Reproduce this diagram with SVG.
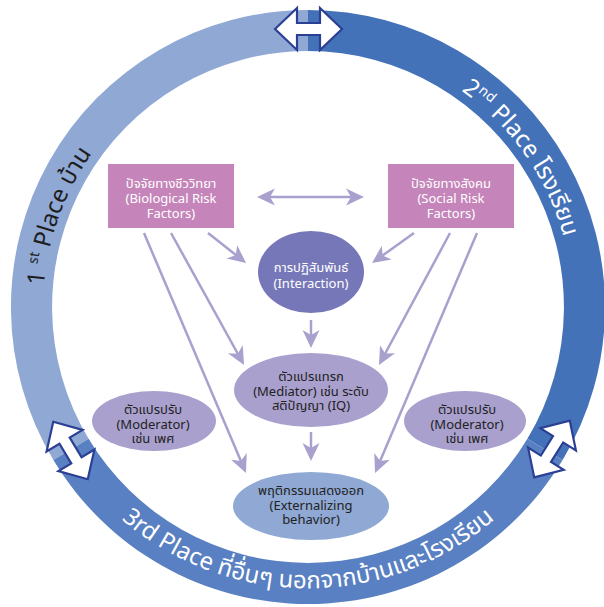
<svg xmlns="http://www.w3.org/2000/svg" width="604" height="607" viewBox="0 0 604 607">
<defs>
<style>
.lbl{font-family:"Noto Sans","Noto Sans Thai",Tahoma,"DejaVu Sans",sans-serif;font-size:13px;text-anchor:middle}
.w{fill:#ffffff}
.d{fill:#222222}
.ring{font-family:"Noto Sans","Noto Sans Thai",Tahoma,"DejaVu Sans",sans-serif;font-size:24px}
.con{stroke:#A9A0CE;stroke-width:2.5;fill:none;marker-end:url(#ah)}
.rar{fill:#ffffff;stroke:#2B3F94;stroke-width:2.2;stroke-linejoin:miter}
</style>
<marker id="ah" viewBox="-16 -10 22 20" markerWidth="22" markerHeight="20" refX="0" refY="0" orient="auto-start-reverse" markerUnits="userSpaceOnUse">
<path d="M4,0 L-14,-8.5 L-9,0 L-14,8.5 Z" fill="#A9A0CE"/>
</marker>
<polygon id="dbl" points="-33.5,0 -11.5,-21 -11.5,-6 11.5,-6 11.5,-21 33.5,0 11.5,21 11.5,6 -11.5,6 -11.5,21"/>
<path id="pLeft" d="M78.5,439.5 A265,265 0 0 1 217.4,58.0"/>
<path id="pRight" d="M331.1,43.0 A265,265 0 0 1 564.0,375.6"/>
<path id="pBottom" d="M40.2,404.5 A287,287 0 0 0 575.8,404.5"/>
</defs>

<g id="ring">
<path d="M53.4,460 A297,297 0 0 1 308,10 L308,51 A256,256 0 0 0 88.6,438.8 Z" fill="#8FA8D4"/>
<path d="M308,10 A297,297 0 0 1 562.6,460 L527.4,438.8 A256,256 0 0 0 308,51 Z" fill="#4472B9"/>
<path d="M562.6,460 A297,297 0 0 1 53.4,460 L88.6,438.8 A256,256 0 0 0 527.4,438.8 Z" fill="#5980C2"/>
<text class="ring" fill="#1E1E1E"><textPath href="#pLeft" startOffset="50%" text-anchor="middle">1 <tspan font-size="14" dy="-9">st</tspan><tspan dy="9"> Place บ้าน</tspan></textPath></text>
<text class="ring" fill="#ffffff"><textPath href="#pRight" startOffset="50%" text-anchor="middle">2<tspan font-size="14" dy="-9">nd</tspan><tspan dy="9"> Place โรงเรียน</tspan></textPath></text>
<text class="ring" fill="#ffffff"><textPath href="#pBottom" startOffset="50%" text-anchor="middle">3rd Place ที่อื่นๆ นอกจากบ้านและโรงเรียน</textPath></text>
<use href="#dbl" class="rar" transform="translate(308.5,29)"/>
<use href="#dbl" class="rar" transform="translate(70.5,450.5) rotate(59)"/>
<use href="#dbl" class="rar" transform="translate(552,449) rotate(122)"/>
</g>

<g id="connectors">
<line class="con" x1="261" y1="197" x2="360" y2="197" style="marker-start:url(#ah)"/>
<line class="con" x1="208" y1="233" x2="242.9" y2="260.5"/>
<line class="con" x1="414" y1="233" x2="375.3" y2="260.7"/>
<line class="con" x1="311" y1="320" x2="311" y2="344"/>
<line class="con" x1="171" y1="233" x2="242.1" y2="361.5"/>
<line class="con" x1="450" y1="233" x2="380.9" y2="361.5"/>
<line class="con" x1="144" y1="233" x2="244.4" y2="469.3"/>
<line class="con" x1="477" y1="233" x2="376.6" y2="469.3"/>
<line class="con" x1="311" y1="432" x2="311" y2="457"/>
</g>

<g id="bio">
<rect x="108" y="164" width="126" height="64" fill="#C585BA"/>
<text class="lbl w" x="171" y="188">ปัจจัยทางชีววิทยา</text>
<text class="lbl w" x="171" y="203">(Biological Risk</text>
<text class="lbl w" x="171" y="218">Factors)</text>
</g>

<g id="social">
<rect x="388" y="164" width="126" height="64" fill="#C585BA"/>
<text class="lbl w" x="451" y="188">ปัจจัยทางสังคม</text>
<text class="lbl w" x="451" y="203">(Social Risk</text>
<text class="lbl w" x="451" y="218">Factors)</text>
</g>

<g id="interaction">
<ellipse cx="311" cy="272" rx="53" ry="41" fill="#7677B8"/>
<text class="lbl w" x="311" y="272">การปฏิสัมพันธ์</text>
<text class="lbl w" x="311" y="288">(Interaction)</text>
</g>

<g id="mediator">
<ellipse cx="311" cy="390" rx="77" ry="37" fill="#A9A0CE"/>
<text class="lbl d" x="311" y="381">ตัวแปรแทรก</text>
<text class="lbl d" x="311" y="396">(Mediator) เช่น ระดับ</text>
<text class="lbl d" x="311" y="410">สติปัญญา (IQ)</text>
</g>

<g id="moderatorLeft">
<ellipse cx="154" cy="421" rx="62" ry="30" fill="#A9A0CE"/>
<text class="lbl d" x="153" y="414">ตัวแปรปรับ</text>
<text class="lbl d" x="153" y="429">(Moderator)</text>
<text class="lbl d" x="153" y="443">เช่น เพศ</text>
</g>

<g id="moderatorRight">
<ellipse cx="465" cy="421" rx="61" ry="30" fill="#A9A0CE"/>
<text class="lbl d" x="467" y="414">ตัวแปรปรับ</text>
<text class="lbl d" x="467" y="429">(Moderator)</text>
<text class="lbl d" x="467" y="443">เช่น เพศ</text>
</g>

<g id="externalizing">
<ellipse cx="311" cy="506" rx="78" ry="34" fill="#8FA8D4"/>
<text class="lbl d" x="311" y="495">พฤติกรรมแสดงออก</text>
<text class="lbl d" x="311" y="510">(Externalizing</text>
<text class="lbl d" x="311" y="524">behavior)</text>
</g>
</svg>
